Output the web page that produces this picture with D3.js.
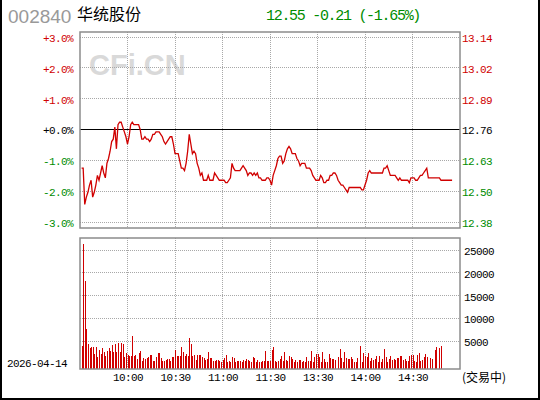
<!DOCTYPE html>
<html>
<head>
<meta charset="utf-8">
<script src="https://cdn.jsdelivr.net/npm/d3@7/dist/d3.min.js"></script>
<style>
body { margin: 0; background: #fff; }
svg text { font-family: "Liberation Mono", "DejaVu Sans Mono", monospace; }
.ax text { font-size: 11px; letter-spacing: -0.6px; }
</style>
</head>
<body>
<script>
// ---- data ----
var stockCode = "002840",
    stockName = "华统股份",
    lastPrice = 12.55,
    change = -0.21,
    changePct = -1.65,
    prevClose = 12.76,
    tradeDate = "2026-04-14",
    status = "(交易中)";

var pctTicks = [3, 2, 1, 0, -1, -2, -3];
var volTicks = [5000, 10000, 15000, 20000, 25000];
var timeTicks = [30, 60, 90, 120, 150, 180, 210];            // trading minute index
var timeLabels = ["10:00", "10:30", "11:00", "11:30", "13:30", "14:00", "14:30"];

// one price per trading minute, starting 9:31
var prices = [
  12.60,12.60,12.45,12.48,12.50,12.53,12.55,12.48,12.50,12.53,
  12.57,12.55,12.58,12.61,12.58,12.56,12.62,12.64,12.67,12.71,
  12.72,12.77,12.68,12.78,12.79,12.79,12.77,12.75,12.73,12.70,
  12.73,12.78,12.79,12.78,12.78,12.78,12.78,12.76,12.72,12.72,
  12.73,12.72,12.72,12.71,12.72,12.74,12.74,12.75,12.75,12.75,
  12.74,12.73,12.71,12.70,12.71,12.72,12.73,12.73,12.70,12.66,
  12.66,12.66,12.63,12.60,12.60,12.59,12.62,12.67,12.74,12.70,
  12.66,12.67,12.66,12.62,12.60,12.57,12.58,12.55,12.55,12.55,
  12.57,12.55,12.55,12.55,12.58,12.57,12.56,12.55,12.55,12.55,
  12.55,12.54,12.54,12.55,12.56,12.62,12.60,12.59,12.59,12.59,
  12.59,12.60,12.61,12.60,12.59,12.57,12.58,12.58,12.57,12.58,
  12.57,12.58,12.56,12.56,12.55,12.55,12.55,12.56,12.56,12.55,
  12.53,12.57,12.59,12.61,12.64,12.65,12.65,12.62,12.63,12.66,
  12.68,12.69,12.68,12.66,12.66,12.66,12.64,12.63,12.61,12.62,
  12.62,12.62,12.60,12.60,12.60,12.59,12.57,12.56,12.55,12.55,
  12.55,12.57,12.56,12.54,12.54,12.55,12.55,12.57,12.57,12.58,
  12.58,12.57,12.55,12.54,12.53,12.53,12.52,12.51,12.50,12.52,
  12.52,12.52,12.52,12.52,12.52,12.52,12.52,12.51,12.51,12.53,
  12.55,12.58,12.59,12.58,12.58,12.58,12.58,12.58,12.58,12.58,
  12.58,12.60,12.60,12.61,12.59,12.57,12.57,12.57,12.57,12.56,
  12.55,12.56,12.55,12.55,12.55,12.55,12.55,12.54,12.56,12.56,
  12.56,12.55,12.55,12.56,12.57,12.57,12.58,12.59,12.60,12.56,
  12.56,12.56,12.56,12.56,12.56,12.56,12.56,12.55,12.55,12.55,
  12.55,12.55,12.55,12.55,12.55
];

// volume per trading minute, starting 9:31
var volumes = [
  3900,26300,18200,7600,4300,3500,3700,3700,2100,3700,
  1500,3000,2100,3500,2600,1700,2800,3500,2800,4100,
  2600,4300,2500,4500,2600,4600,4300,1500,2300,1900,
  1700,1600,6100,1700,1900,1100,2300,2800,700,1300,
  1000,1200,1500,1900,1900,700,700,1500,2400,2300,
  1200,600,600,800,1000,1100,700,1500,1400,3000,
  1600,1800,1600,3700,2500,1700,2100,1600,5700,4300,
  1600,1900,800,1900,1900,1900,1400,1300,800,1100,
  2500,1300,1300,600,600,800,800,600,400,900,
  1300,2000,400,600,300,1500,1300,400,600,500,
  500,400,800,500,1000,800,600,400,1500,1300,
  400,800,400,400,600,500,2800,600,600,500,
  3000,3700,600,400,600,1000,1700,600,2600,800,
  600,1700,1500,1000,400,800,400,800,800,400,
  600,400,1500,600,600,2800,400,1500,2100,2100,
  1500,400,2600,1000,400,400,2100,1300,1000,1000,
  800,0,1500,3200,1300,400,2600,1300,1000,1000,
  1500,1000,400,400,1300,0,3900,400,2400,1700,
  1500,2400,600,1300,800,1000,1700,400,1700,400,
  1000,3200,1500,400,1000,1700,800,1000,800,1300,
  1300,1700,1700,800,1000,600,600,1700,1900,1900,
  600,400,1900,2400,600,800,1500,2100,1500,0,
  1300,1000,0,3000,3700,0,3500,3900
];

var W = 540, H = 400;
var red = "#d00000", green = "#008c00", gridCol = "#a8a8a8";
var pLeft = 80, pRight = 460, pTop = 32, pBottom = 228;   // price panel
var vTop = 238, vBottom = 369;                              // volume panel

var svg = d3.select("body").append("svg")
    .attr("width", W)
    .attr("height", H);

var x = d3.scaleLinear().domain([0, 240]).range([pLeft, pRight]);
var yPct = d3.scaleLinear().domain([-3, 3]).range([222, 37]);
var yVol = d3.scaleLinear().domain([0, 25000]).range([363.7, 250.3]);
var crisp = function(v) { return Math.round(v - 0.5) + 0.5; };
var pctColor = function(d) { return d > 0 ? red : d < 0 ? green : "#000"; };

/* ============ header ============ */
svg.append("text").text(stockCode)
    .attr("x", 8).attr("y", 23)
    .style("font-family", "'Liberation Sans', Arial, sans-serif")
    .style("font-size", "19px").attr("fill", "#999");
svg.append("text").text(stockName)
    .attr("x", 77).attr("y", 20)
    .style("font-family", "'Noto Sans CJK SC', sans-serif")
    .style("font-size", "16px").attr("fill", "#000");
svg.append("text")
    .text(lastPrice.toFixed(2) + " " + change.toFixed(2) + " (" + changePct.toFixed(2) + "%)")
    .attr("x", 266).attr("y", 19.5)
    .style("font-size", "15px").style("letter-spacing", "-1.3px")
    .attr("fill", green);

// watermark
svg.append("text").text("CFi.CN")
    .attr("x", 89).attr("y", 75)
    .style("font-family", "'Liberation Sans', Arial, sans-serif")
    .style("font-size", "29px").style("font-weight", "bold")
    .attr("fill", "#d9d9d9");

/* ============ grids ============ */
var grid = svg.append("g");
// vertical dotted lines through both panels
[[pTop, pBottom], [vTop, vBottom]].forEach(function(p) {
  grid.selectAll(null).data(timeTicks).enter().append("line")
      .attr("x1", d => crisp(x(d))).attr("x2", d => crisp(x(d)))
      .attr("y1", p[0]).attr("y2", p[1])
      .attr("stroke", gridCol).attr("stroke-dasharray", "1,1");
});
grid.selectAll(null).data(pctTicks.filter(d => d != 0)).enter().append("line")
    .attr("x1", pLeft).attr("x2", pRight)
    .attr("y1", d => crisp(yPct(d))).attr("y2", d => crisp(yPct(d)))
    .attr("stroke", gridCol).attr("stroke-dasharray", "1,1");
grid.selectAll(null).data(volTicks).enter().append("line")
    .attr("x1", pLeft).attr("x2", pRight)
    .attr("y1", d => crisp(yVol(d))).attr("y2", d => crisp(yVol(d)))
    .attr("stroke", gridCol).attr("stroke-dasharray", "1,1");
// previous close line
grid.append("line")
    .attr("x1", pLeft).attr("x2", pRight)
    .attr("y1", crisp(yPct(0))).attr("y2", crisp(yPct(0)))
    .attr("stroke", "#000");

/* ============ price line ============ */
var line = d3.line()
    .x((d, i) => x(i + 1))
    .y(d => yPct((d / prevClose - 1) * 100));
svg.append("path").datum(prices)
    .attr("d", line)
    .attr("fill", "none")
    .attr("stroke", red)
    .attr("stroke-width", 1.3);

/* ============ volume bars ============ */
svg.append("g").selectAll("rect")
    .data(volumes.map((v, i) => ({ m: i + 1, v: v })).filter(d => d.v > 0))
  .enter().append("rect")
    .attr("x", d => Math.round(x(d.m)))
    .attr("width", 1)
    .attr("y", d => yVol(d.v))
    .attr("height", d => vBottom - yVol(d.v))
    .attr("fill", red)
    .attr("shape-rendering", "crispEdges");

/* ============ panel frames ============ */
svg.append("rect").attr("x", pLeft).attr("y", pTop)
    .attr("width", pRight - pLeft).attr("height", pBottom - pTop)
    .attr("fill", "none").attr("stroke", "#8c8c8c").attr("stroke-width", 1.5);
svg.append("rect").attr("x", pLeft).attr("y", vTop)
    .attr("width", pRight - pLeft).attr("height", vBottom - vTop)
    .attr("fill", "none").attr("stroke", "#8c8c8c").attr("stroke-width", 1.5);

/* ============ axes ============ */
var leftAx = svg.append("g").attr("class", "ax")
    .attr("transform", "translate(73,0)")
    .call(d3.axisLeft(yPct).tickValues(pctTicks).tickSize(0).tickPadding(0)
      .tickFormat(d => (d >= 0 ? "+" : "") + d.toFixed(1) + "%"));
leftAx.selectAll("text").attr("fill", pctColor).attr("dy", "0.4em");

var rightAx = svg.append("g").attr("class", "ax")
    .attr("transform", "translate(462,0)")
    .call(d3.axisRight(yPct).tickValues(pctTicks).tickSize(0).tickPadding(0)
      .tickFormat(d => (prevClose * (1 + d / 100)).toFixed(2)));
rightAx.selectAll("text").attr("fill", pctColor).attr("dy", "0.4em");

var volAx = svg.append("g").attr("class", "ax")
    .attr("transform", "translate(464,0)")
    .call(d3.axisRight(yVol).tickValues(volTicks).tickSize(0).tickPadding(0)
      .tickFormat(d3.format("d")));
volAx.selectAll("text").attr("fill", "#000").attr("dy", "0.4em");

var timeAx = svg.append("g").attr("class", "ax")
    .attr("transform", "translate(0," + vBottom + ")")
    .call(d3.axisBottom(x).tickValues(timeTicks).tickSize(0).tickPadding(4)
      .tickFormat((d, i) => timeLabels[i]));
timeAx.selectAll("text").attr("fill", "#000");

[leftAx, rightAx, volAx, timeAx].forEach(a => a.select(".domain").remove());
svg.selectAll(".ax text").style("font-family", "'Liberation Mono', monospace");

svg.append("text").attr("class", "ax").text(tradeDate)
    .attr("x", 7).attr("y", 367)
    .style("font-size", "11px").style("letter-spacing", "-0.6px");
svg.append("text").text(status)
    .attr("x", 462).attr("y", 382)
    .style("font-family", "'Noto Sans CJK SC', sans-serif")
    .style("font-size", "12px");

/* ============ outer frame (left, right, bottom) ============ */
svg.append("path")
    .attr("d", "M1,0V399H539V0")
    .attr("fill", "none").attr("stroke", "#000").attr("stroke-width", 2);
</script>
</body>
</html>
